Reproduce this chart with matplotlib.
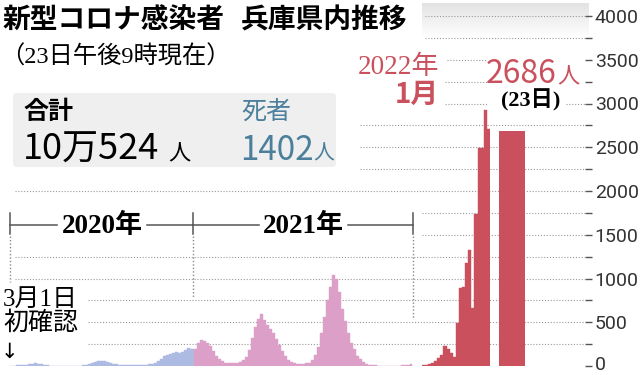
import numpy as np
import matplotlib
matplotlib.use("Agg")
import matplotlib.pyplot as plt
from matplotlib.patches import FancyBboxPatch
from matplotlib.colors import LinearSegmentedColormap
from matplotlib.transforms import ScaledTranslation

JP = 'Noto Sans CJK JP'
SERIF = ['Liberation Serif', 'Noto Sans CJK JP', 'DejaVu Sans']
plt.rcParams['font.family'] = [JP, 'DejaVu Sans']

# new cases, one value per 5 days from 2020-03-01 (last value = Dec 31)
cases_2020 = [2, 5, 8, 6, 9, 14, 20, 28, 32, 28, 20, 12, 6,
              3, 1, 0, 0, 0, 0, 0, 1, 1, 2, 3, 6,
              12, 22, 38, 50, 60, 62, 52, 42, 32, 24, 18,
              15, 12, 10, 8, 10, 12, 10, 10, 12, 15, 20, 28,
              38, 60, 85, 110, 130, 140, 150, 160, 150, 165, 180, 210, 200, 190]
# one value per 5 days from 2021-01-01
cases_2021 = [200, 260, 300, 290, 260, 230, 170, 120, 80, 55, 40, 32,
              30, 30, 35, 45, 65, 100,
              180, 320, 450, 540, 590, 530, 470, 420, 380, 310, 240, 170, 110,
              70, 45, 30, 22, 20, 25, 30,
              40, 70, 130, 220, 380, 560, 750, 900, 1040, 1000, 850, 650,
              520, 380, 260, 190, 120, 75, 45, 25, 15,
              8, 6, 5, 5, 4, 4, 4, 4, 5, 5, 6, 8, 12, 25]
# daily, 2022-01-01 .. 01-22
cases_2022_jan = [8, 11, 18, 30, 61, 95, 126, 229, 190, 145, 106, 495,
                  888, 907, 1174, 1326, 659, 1737, 2488, 2488, 2926, 2705]
latest_cases = 2686

yticks = list(range(0, 4001, 500))
yticks_minor = list(range(250, 4000, 500))

title_1 = '新型コロナ感染者'
title_2 = '兵庫県内推移'
subtitle = '（23日午後9時現在）'

RED = '#c9505c'
BLUE_TXT = '#4b7f9b'
BLUE = '#adbbe2'
PINK = '#dc9fc7'

fig = plt.figure(figsize=(6.4, 3.75), dpi=100)


def fy(px):
    return 1 - px / 375


# overlay in pixel coordinates (drawn first, underneath)
ov = fig.add_axes([0, 0, 1, 1])
ov.axis('off')
grad = np.linspace(0.0, 1.0, 60).reshape(-1, 1)
cm = LinearSegmentedColormap.from_list('band', ['#e3e3e3', '#ffffff'])
ov.imshow(grad, cmap=cm, extent=(421.7, 588, 38, 3), aspect='auto', origin='upper')
ov.add_patch(FancyBboxPatch((13, 93), 323, 74, boxstyle='round,pad=0,rounding_size=4',
                            fc='#efefef', ec='none'))
ov.set_xlim(0, 640)
ov.set_ylim(375, 0)

# base axes: grid + right axis (x in pixels)
base = fig.add_axes([0, fy(366), 585 / 640, 350 / 375])
base.patch.set_alpha(0)
base.set_xlim(0, 585)
base.set_ylim(0, 4000)
for s in base.spines.values():
    s.set_visible(False)
base.tick_params(axis='x', bottom=False, labelbottom=False)
base.yaxis.tick_right()
base.set_yticks(yticks)
base.set_yticks(yticks_minor, minor=True)
base.tick_params(axis='y', which='both', length=5, width=1, color='#555555', pad=2,
                 labelsize=14, labelcolor='#333333')
for lab in base.get_yticklabels():
    lab.set_fontfamily('Roboto')
zero_lab = base.yaxis.get_major_ticks()[0].label2
zero_lab.set_transform(zero_lab.get_transform() +
                       ScaledTranslation(0, 3 / 100, fig.dpi_scale_trans))

grid_segments = [(250, 88, 585), (500, 88, 585), (750, 88, 585),
                 (1000, 15, 585), (1250, 15, 585), (1500, 422, 585), (1750, 422, 585),
                 (2000, 15, 585), (2250, 360, 585), (2500, 360, 585), (2750, 360, 585),
                 (3000, 445, 487), (3000, 566, 585), (3250, 445, 487),
                 (3500, 447, 487), (3750, 425, 585), (4000, 425, 585)]
for yv, x0, x1 in grid_segments:
    base.plot([x0, x1], [yv, yv], color='#9a9a9a', lw=0.8, ls=(0, (1, 1.6)), zorder=1)

base.bar(499.3, latest_cases, width=25.7, align='edge', color=RED, zorder=3)

# 2020-2021 area
ax_l = fig.add_axes([10 / 640, fy(366), 402.5 / 640, 350 / 375])
ax_l.axis('off')
ax_l.set_xlim(0, 671)
ax_l.set_ylim(0, 4000)
s20 = np.arange(len(cases_2020)) * 5
w20 = np.minimum(5, 306 - s20)
ax_l.bar(s20, cases_2020, width=w20, align='edge', color=BLUE, ec=BLUE, lw=0.3)
s21 = 306 + np.arange(len(cases_2021)) * 5
ax_l.bar(s21, cases_2021, width=5, align='edge', color=PINK, ec=PINK, lw=0.3)

# January 2022
ax_r = fig.add_axes([421.7 / 640, fy(366), 68.2 / 640, 350 / 375])
ax_r.axis('off')
ax_r.set_xlim(0, len(cases_2022_jan))
ax_r.set_ylim(0, 4000)
ax_r.bar(np.arange(len(cases_2022_jan)), cases_2022_jan, width=1, align='edge',
         color=RED, ec=RED, lw=0.3)

# text on top
top = fig.add_axes([0, 0, 1, 1])
top.axis('off')
top.set_xlim(0, 640)
top.set_ylim(375, 0)

top.text(3, 21, title_1, fontsize=20, fontweight='bold', va='center', ha='left')
top.text(241, 21, title_2, fontsize=20, fontweight='bold', va='center', ha='left')
top.text(0, 57, subtitle, fontsize=17.5, va='center', ha='left', family=SERIF)

top.text(24, 112, '合計', fontsize=18, fontweight='bold', va='center')
top.text(23, 160, '10万524', fontsize=26, va='baseline')
top.text(168, 160, '人', fontsize=16, va='baseline')
top.text(241, 112, '死者', fontsize=18, color=BLUE_TXT, va='center')
top.text(240, 160, '1402', fontsize=24, color=BLUE_TXT, va='baseline')
top.text(313, 160, '人', fontsize=15, color=BLUE_TXT, va='baseline')

top.text(439, 67, '2022年', fontsize=19.5, color=RED, ha='right', va='center', family=SERIF)
top.text(439, 95, '1月', fontsize=20, color=RED, ha='right', va='center', fontweight='bold')
top.text(486, 83, '2686', fontsize=23, color=RED, ha='left', va='baseline')
top.text(557, 83, '人', fontsize=16, color=RED, ha='left', va='baseline')
top.text(531, 100, '(23日)', fontsize=16, ha='center', va='center', family=SERIF,
         fontweight='bold')

# year bracket
LC = '#555555'
for x0, x1 in [(10, 57), (147, 193.3), (193.3, 259), (348, 412.5)]:
    top.plot([x0, x1], [225, 225], color=LC, lw=1.1)
for xv, yb in [(10, 282), (193.3, 298), (412.5, 318)]:
    top.plot([xv, xv], [213, 234], color=LC, lw=1.1)
    top.plot([xv, xv], [236, yb], color='#888888', lw=1.0, ls=(0, (1, 1.5)))
top.text(102, 226, '2020年', fontsize=19.5, fontweight='bold', ha='center', va='center',
         family=SERIF)
top.text(303, 226, '2021年', fontsize=19.5, fontweight='bold', ha='center', va='center',
         family=SERIF)

top.text(3, 300, '3月1日', fontsize=18, va='center', family=SERIF)
top.text(3, 323, '初確認', fontsize=18, va='center', family=SERIF)
top.text(1, 352, '↓', fontsize=15, va='center', family=['DejaVu Sans'])

fig.savefig('out.png', dpi=100)
